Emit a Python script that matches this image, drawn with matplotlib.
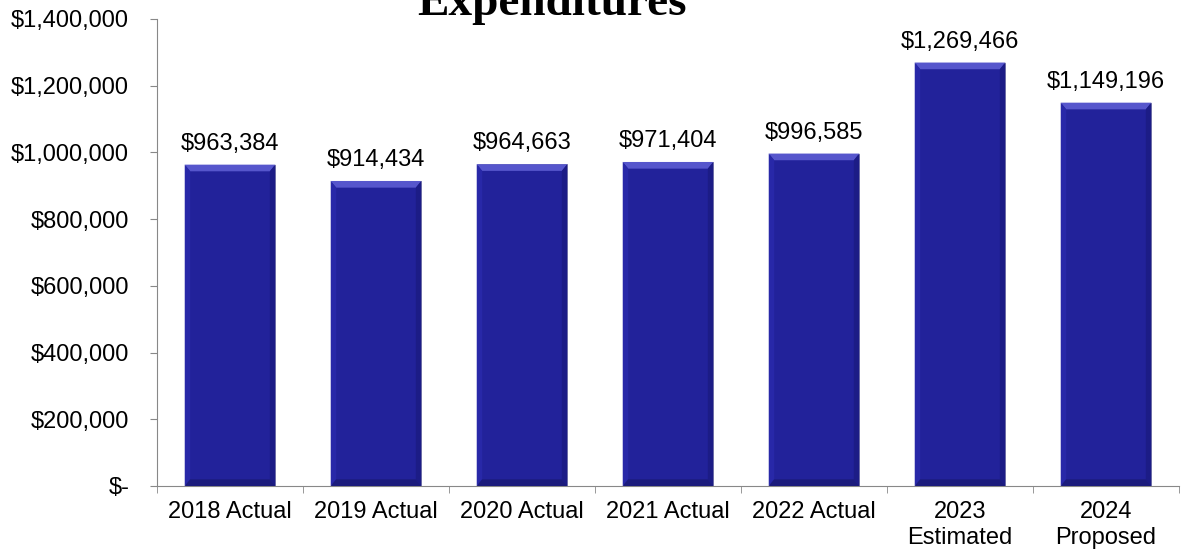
import matplotlib.pyplot as plt
from matplotlib.patches import Polygon
from matplotlib.ticker import FuncFormatter, FixedLocator

plt.rcParams['font.family'] = ['Liberation Sans', 'DejaVu Sans']

years = ["2018 Actual", "2019 Actual", "2020 Actual", "2021 Actual",
         "2022 Actual", "2023\nEstimated", "2024\nProposed"]
spending = [963384, 914434, 964663, 971404, 996585, 1269466, 1149196]

W, H = 1185, 553
fig = plt.figure(figsize=(W / 100, H / 100), dpi=100)
ax = fig.add_axes([157 / W, 1 - 486 / H, (1179 - 157) / W, (486 - 19) / H])

navy = "#22229a"
xs = list(range(len(spending)))
bars = ax.bar(xs, spending, width=0.62, color=navy, edgecolor="#8a8ab0",
              linewidth=0.6, zorder=2)

# fake bevel: light band across the top, slightly darker sides/bottom
for b in bars:
    x0, w, h = b.get_x(), b.get_width(), b.get_height()
    dx = w * 0.06
    dy = 20000
    ax.add_patch(Polygon([(x0, h), (x0 + w, h), (x0 + w - dx, h - dy), (x0 + dx, h - dy)],
                         closed=True, color="#5656cc", lw=0, zorder=3))
    ax.add_patch(Polygon([(x0, h), (x0 + dx, h - dy), (x0 + dx, dy), (x0, 0)],
                         closed=True, color="#2828a8", lw=0, zorder=3))
    ax.add_patch(Polygon([(x0 + w, h), (x0 + w - dx, h - dy), (x0 + w - dx, dy), (x0 + w, 0)],
                         closed=True, color="#1c1c86", lw=0, zorder=3))
    ax.add_patch(Polygon([(x0, 0), (x0 + dx, dy), (x0 + w - dx, dy), (x0 + w, 0)],
                         closed=True, color="#1b1b7c", lw=0, zorder=3))

for x, v in zip(xs, spending):
    ax.text(x, v + 30000, "${:,}".format(v), ha="center", va="bottom", fontsize=17)

ax.set_ylim(0, 1400000)
ax.set_xlim(-0.5, len(spending) - 0.5)
ax.yaxis.set_major_locator(FixedLocator(range(0, 1400001, 200000)))
ax.yaxis.set_major_formatter(FuncFormatter(lambda v, p: "$-" if v == 0 else "${:,.0f}".format(v)))

ax.set_xticks(xs)
ax.set_xticklabels(years, fontsize=17, linespacing=1.2)
ax.set_xticks([x - 0.5 for x in xs] + [len(xs) - 0.5], minor=True)
ax.tick_params(axis="x", which="major", length=0, pad=11)
ax.tick_params(axis="x", which="minor", length=5, color="#888888")
ax.tick_params(axis="y", length=5, color="#888888", labelsize=17, pad=15)

for s in ["top", "right"]:
    ax.spines[s].set_visible(False)
for s in ["left", "bottom"]:
    ax.spines[s].set_color("#888888")

fig.text(552 / W, 1 - 15 / H, "Expenditures", ha="center", va="baseline",
         fontsize=34, fontweight="bold", family="Liberation Serif")

fig.savefig("out.png", dpi=100)
